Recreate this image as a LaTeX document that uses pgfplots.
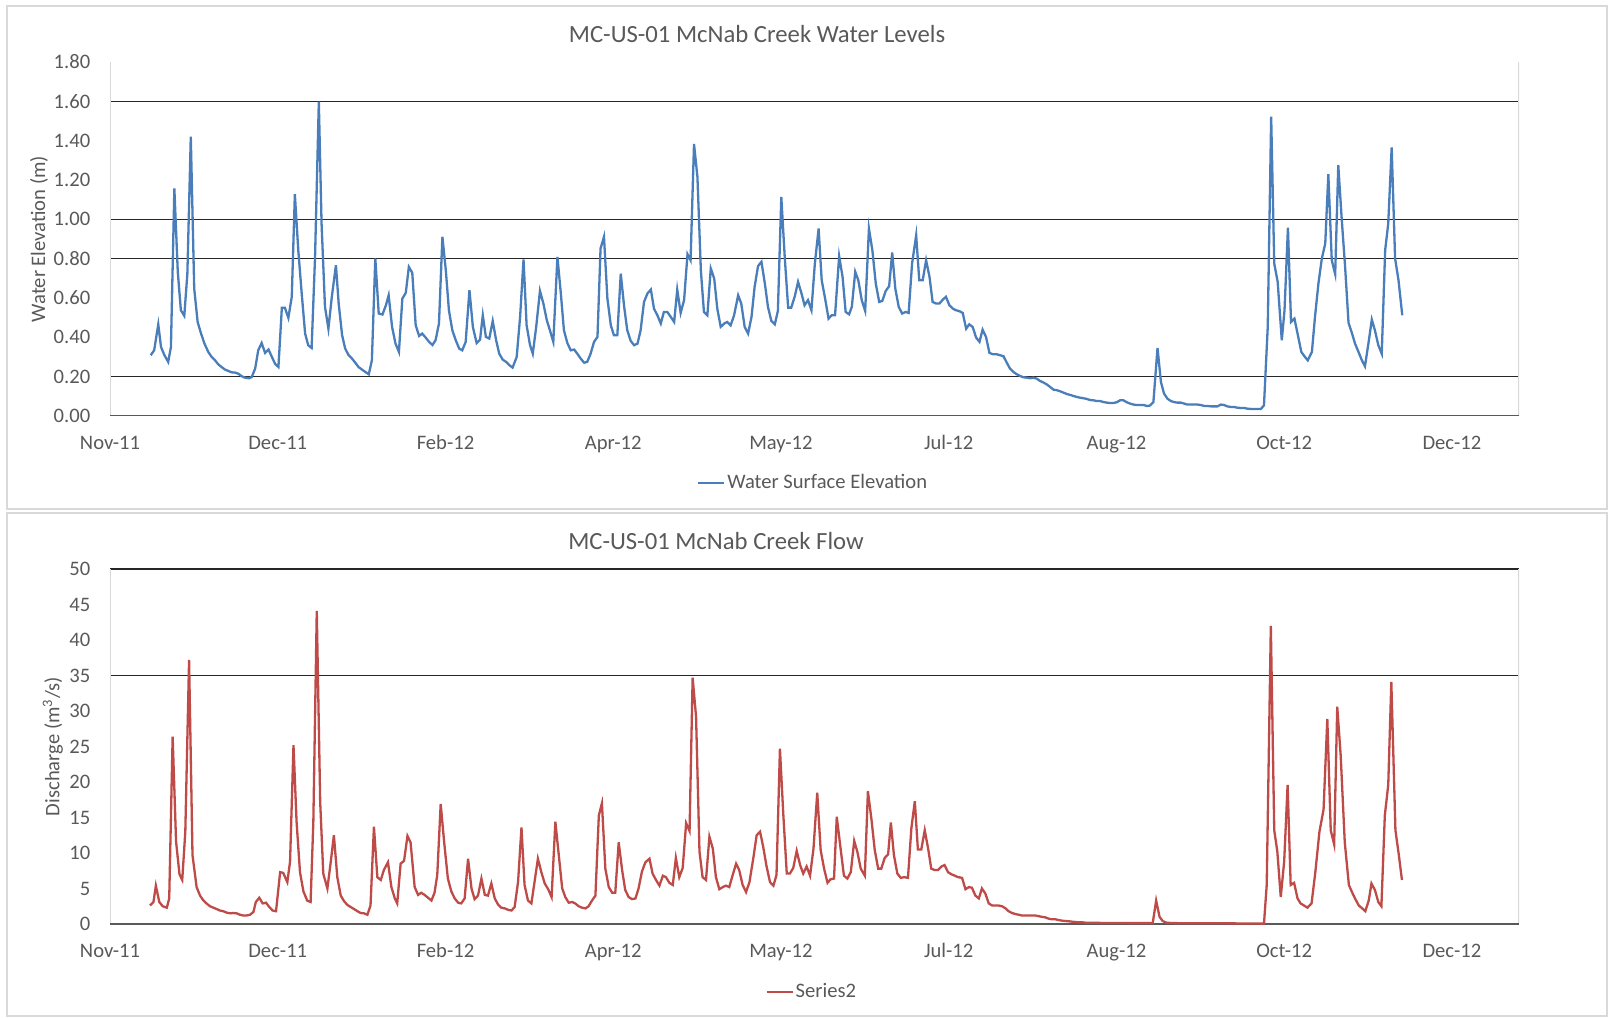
\documentclass[border=0pt]{standalone}
\usepackage{fontspec}
\setmainfont{Carlito}
\usepackage{pgfplots}
\pgfplotsset{compat=1.18}
\definecolor{txt}{HTML}{595959}
\definecolor{blueline}{HTML}{4A7EBB}
\definecolor{redline}{HTML}{BE4B48}
\definecolor{gridc}{HTML}{262626}
\definecolor{axisc}{HTML}{D9D9D9}
\definecolor{boxc}{HTML}{D9D9D9}
\definecolor{xaxc}{HTML}{595959}
\newcommand{\tfont}{\fontsize{10.3}{12}\selectfont}
\pgfplotsset{
  mystyle/.style={
    scale only axis,
    width=704.5pt,
    xmin=0, xmax=411.6,
    xtick={0,49,98,147,196,245,294,343,392},
    xticklabels={Nov-11,Dec-11,Feb-12,Apr-12,May-12,Jul-12,Aug-12,Oct-12,Dec-12},
    major tick length=0pt,
    axis line style={draw=none},
    tick label style={font=\tfont, text=txt},
    label style={font=\tfont, text=txt},
    xticklabel style={anchor=base, inner sep=0pt, yshift=-16.75pt},
    yticklabel style={anchor=east, inner sep=0pt, xshift=-9.7pt},
    /pgf/number format/assume math mode=true,
    extra y tick labels={},
    extra y tick style={grid=major, major grid style={color=gridc, line width=0.75pt}, major tick length=0pt},
    legend cell align=left,
    legend style={draw=none, fill=none, font=\tfont, text=txt, inner sep=0pt, anchor=center,
      nodes={inner sep=1pt},
      /tikz/every even column/.append style={column sep=0pt}},
    legend image code/.code={\draw[#1] (0pt,0pt) -- (13pt,0pt);},
  }
}
\begin{document}
\begin{tikzpicture}
\useasboundingbox (0,0) rectangle (805pt,508.5pt);
\draw[boxc, line width=1pt] (3.5pt,254pt) rectangle (803.5pt,505.5pt);
\draw[boxc, line width=1pt] (3.5pt,0.5pt) rectangle (803.5pt,252pt);
\node[font=\fontsize{12.35}{14}\selectfont, text=txt] at (378.5pt,491.5pt) {MC-US-01 McNab Creek Water Levels};
\node[font=\fontsize{12.35}{14}\selectfont, text=txt] at (358pt,238pt) {MC-US-01 McNab Creek Flow};

\begin{axis}[mystyle,
  at={(55pt,300.5pt)}, anchor=south west,
  height=177pt,
  ymin=0, ymax=1.8,
  ytick={0,0.2,0.4,0.6,0.8,1.0,1.2,1.4,1.6,1.8},
  yticklabel style={/pgf/number format/.cd, fixed, fixed zerofill, precision=2},
  extra y ticks={0.2,0.8,1.0,1.6},
  ylabel={Water Elevation (m)},
  ylabel style={at={(axis description cs:-0.0504,0.5)}, anchor=center},
  legend style={at={(axis description cs:0.499,-0.189)}},
]
\draw[axisc, line width=0.8pt] (rel axis cs:0,0) -- (rel axis cs:0,1);
\draw[axisc, line width=0.8pt] (rel axis cs:1,0) -- (rel axis cs:1,1);
\draw[xaxc, line width=0.8pt] (rel axis cs:0,0) -- (rel axis cs:1,0);
\addplot[blueline, line width=1.15pt] coordinates {
(11.9,0.309)(12.9,0.334)(14.1,0.466)(14.9,0.351)(15.9,0.309)(17.0,0.275)(17.8,0.351)(18.8,1.157)(19.8,0.733)(20.7,0.538)
(21.7,0.509)(22.6,0.724)(23.6,1.420)(24.6,0.648)(25.6,0.478)(26.6,0.419)(27.6,0.368)(28.7,0.326)(29.7,0.300)(30.7,0.283)
(31.6,0.263)(32.6,0.249)(33.6,0.236)(34.6,0.229)(35.5,0.222)(36.5,0.221)(37.5,0.215)(38.5,0.202)(39.4,0.195)(40.6,0.192)
(41.4,0.198)(42.4,0.241)(43.3,0.334)(44.3,0.371)(45.3,0.321)(46.3,0.338)(47.2,0.304)(48.2,0.266)(49.2,0.249)(50.2,0.550)
(51.1,0.550)(52.1,0.499)(53.1,0.606)(54.0,1.128)(55.0,0.843)(56.0,0.623)(57.0,0.419)(57.9,0.360)(58.9,0.346)(59.9,0.809)
(61.0,1.598)(61.8,0.979)(62.8,0.555)(63.8,0.444)(64.8,0.606)(66.0,0.767)(66.8,0.572)(67.8,0.411)(68.7,0.343)(69.7,0.309)
(70.7,0.292)(71.7,0.270)(72.6,0.249)(73.6,0.236)(74.6,0.224)(75.6,0.212)(76.5,0.283)(77.5,0.801)(78.5,0.521)(79.6,0.516)
(80.6,0.563)(81.4,0.614)(82.4,0.453)(83.4,0.368)(84.4,0.326)(85.4,0.597)(86.4,0.626)(87.3,0.758)(88.3,0.728)(89.3,0.461)
(90.3,0.407)(91.2,0.419)(92.2,0.399)(93.2,0.377)(94.2,0.361)(95.1,0.385)(96.1,0.470)(97.1,0.911)(98.1,0.741)(99.0,0.538)
(100.0,0.436)(101.0,0.385)(102.0,0.343)(102.9,0.334)(103.9,0.377)(105.0,0.640)(106.0,0.453)(107.1,0.371)(108.1,0.388)(108.9,0.512)
(109.8,0.402)(110.8,0.394)(111.8,0.483)(112.8,0.385)(113.7,0.317)(114.7,0.287)(115.7,0.275)(116.7,0.258)(117.6,0.246)(118.8,0.300)
(119.8,0.504)(120.8,0.796)(121.7,0.461)(122.7,0.360)(123.5,0.317)(124.5,0.453)(125.6,0.636)(126.6,0.572)(127.6,0.487)(128.5,0.436)
(129.5,0.377)(130.7,0.809)(131.7,0.623)(132.6,0.436)(133.6,0.371)(134.6,0.334)(135.6,0.338)(136.5,0.317)(137.5,0.292)(138.5,0.271)
(139.4,0.275)(140.4,0.317)(141.4,0.377)(142.4,0.402)(143.3,0.852)(144.3,0.911)(145.3,0.597)(146.3,0.461)(147.2,0.411)(148.2,0.411)
(149.2,0.724)(150.2,0.555)(151.1,0.436)(152.1,0.382)(153.1,0.360)(154.1,0.368)(155.0,0.436)(156.0,0.580)(157.0,0.623)(158.0,0.643)
(158.9,0.546)(159.9,0.512)(160.9,0.470)(161.8,0.529)(162.8,0.529)(163.8,0.504)(164.8,0.478)(165.7,0.643)(166.7,0.524)(167.7,0.589)
(168.7,0.823)(169.6,0.792)(170.6,1.383)(171.6,1.216)(172.6,0.741)(173.5,0.529)(174.5,0.512)(175.5,0.750)(176.5,0.699)(177.4,0.546)
(178.4,0.453)(179.4,0.470)(180.3,0.478)(181.3,0.461)(182.3,0.512)(183.5,0.614)(184.4,0.572)(185.4,0.453)(186.4,0.419)(187.4,0.504)
(188.3,0.656)(189.3,0.762)(190.3,0.784)(191.3,0.673)(192.2,0.555)(193.2,0.483)(194.2,0.466)(195.1,0.534)(196.1,1.114)(197.1,0.809)
(198.1,0.551)(199.0,0.551)(200.0,0.606)(201.0,0.682)(202.0,0.623)(202.9,0.563)(203.9,0.589)(204.9,0.538)(205.9,0.775)(207.0,0.953)
(207.9,0.690)(208.9,0.597)(209.9,0.495)(210.8,0.512)(211.8,0.512)(213.0,0.813)(214.0,0.707)(214.9,0.529)(215.9,0.517)(216.7,0.555)
(217.7,0.733)(218.6,0.690)(219.6,0.589)(220.6,0.534)(221.7,0.953)(222.7,0.843)(223.7,0.673)(224.7,0.580)(225.6,0.585)(226.6,0.636)
(227.6,0.660)(228.5,0.831)(229.4,0.648)(230.4,0.555)(231.4,0.521)(232.4,0.529)(233.3,0.524)(234.3,0.775)(235.5,0.919)(236.4,0.690)
(237.4,0.690)(238.4,0.792)(239.4,0.707)(240.3,0.580)(241.3,0.572)(242.3,0.572)(243.3,0.592)(244.2,0.606)(245.2,0.563)(246.2,0.546)
(247.1,0.538)(248.1,0.533)(249.1,0.524)(250.1,0.444)(251.0,0.466)(252.0,0.453)(253.0,0.399)(254.0,0.377)(254.9,0.439)(255.9,0.402)
(256.9,0.321)(257.9,0.314)(259.0,0.314)(260.0,0.309)(261.0,0.304)(262.0,0.270)(262.9,0.241)(263.9,0.224)(264.9,0.212)(265.8,0.204)
(266.8,0.197)(267.8,0.195)(268.8,0.192)(269.7,0.195)(270.7,0.190)(271.7,0.178)(272.7,0.170)(273.6,0.161)(274.6,0.148)(275.6,0.134)
(276.6,0.131)(277.5,0.126)(278.5,0.119)(279.5,0.112)(280.5,0.107)(281.4,0.102)(282.4,0.097)(283.4,0.093)(284.4,0.090)(285.3,0.087)
(286.3,0.081)(287.3,0.080)(288.2,0.076)(289.2,0.076)(290.2,0.071)(291.2,0.068)(292.1,0.066)(293.1,0.066)(294.1,0.070)(295.1,0.080)
(296.0,0.080)(297.0,0.070)(298.0,0.063)(299.0,0.058)(299.9,0.056)(300.9,0.056)(301.9,0.056)(302.9,0.051)(303.8,0.053)(304.8,0.071)
(306.0,0.346)(307.0,0.173)(307.9,0.114)(308.9,0.088)(309.9,0.076)(310.8,0.071)(311.8,0.068)(312.8,0.068)(313.8,0.063)(314.7,0.058)
(315.7,0.058)(316.7,0.058)(317.7,0.058)(318.6,0.056)(319.6,0.051)(320.6,0.051)(321.6,0.049)(322.5,0.049)(323.5,0.049)(324.5,0.058)
(325.4,0.056)(326.4,0.049)(327.4,0.046)(328.4,0.046)(329.3,0.042)(330.3,0.041)(331.3,0.041)(332.3,0.037)(333.2,0.036)(334.2,0.036)
(335.2,0.036)(336.2,0.036)(337.1,0.054)(338.2,0.453)(339.2,1.522)(340.1,0.775)(341.1,0.682)(342.3,0.385)(343.1,0.538)(344.1,0.958)
(345.0,0.478)(346.0,0.495)(347.0,0.411)(348.0,0.326)(348.9,0.304)(349.9,0.283)(351.1,0.326)(352.0,0.504)(353.0,0.673)(354.0,0.801)
(355.0,0.877)(355.9,1.230)(356.9,0.792)(357.9,0.721)(358.8,1.276)(359.8,1.004)(360.8,0.758)(361.8,0.473)(362.7,0.427)(363.7,0.368)
(364.7,0.326)(365.7,0.283)(366.6,0.253)(367.6,0.368)(368.6,0.490)(369.5,0.436)(370.5,0.360)(371.5,0.317)(372.5,0.843)(373.4,0.979)
(374.4,1.366)(375.4,0.801)(376.4,0.690)(377.5,0.512)
};
\addlegendentry{Water Surface Elevation}
\end{axis}

\begin{axis}[mystyle,
  at={(55pt,46.5pt)}, anchor=south west,
  height=177.5pt,
  ymin=0, ymax=50,
  ytick={0,5,10,15,20,25,30,35,40,45,50},
  extra y ticks={35,50},
  ylabel={Discharge (m\textsuperscript{3}/s)},
  ylabel style={at={(axis description cs:-0.0405,0.5)}, anchor=center},
  legend style={at={(axis description cs:0.498,-0.1915)}},
]
\draw[axisc, line width=0.8pt] (rel axis cs:0,0) -- (rel axis cs:0,1);
\draw[axisc, line width=0.8pt] (rel axis cs:1,0) -- (rel axis cs:1,1);
\draw[xaxc, line width=0.8pt] (rel axis cs:0,0) -- (rel axis cs:1,0);
\addplot[redline, line width=1.15pt] coordinates {
(11.7,2.6)(12.7,3.1)(13.4,5.4)(14.4,3.1)(15.4,2.5)(16.6,2.3)(17.3,3.6)(18.3,26.4)(19.3,11.6)(20.3,7.0)
(21.1,6.2)(22.0,13.0)(23.1,37.2)(24.1,9.7)(25.3,5.2)(26.3,4.0)(27.3,3.3)(28.2,2.9)(29.2,2.5)(30.2,2.3)
(31.2,2.1)(32.1,1.9)(33.1,1.8)(34.1,1.6)(35.1,1.5)(36.0,1.55)(37.0,1.5)(38.0,1.3)(38.9,1.2)(39.9,1.2)
(40.9,1.3)(41.9,1.7)(42.6,3.1)(43.6,3.7)(44.6,2.9)(45.6,3.0)(46.5,2.4)(47.5,1.9)(48.5,1.8)(49.7,7.3)
(50.6,7.2)(51.8,5.9)(52.6,8.8)(53.6,25.2)(54.5,14.4)(55.5,7.3)(56.5,4.6)(57.6,3.3)(58.6,3.1)(59.4,14.4)
(60.4,44.1)(61.4,17.2)(62.3,7.1)(63.5,5.0)(64.5,8.8)(65.4,12.5)(66.4,6.6)(67.4,4.0)(68.4,3.2)(69.3,2.7)
(70.3,2.4)(71.3,2.1)(72.3,1.8)(73.2,1.55)(74.2,1.5)(75.2,1.3)(76.1,2.6)(77.1,13.7)(78.1,6.6)(79.1,6.2)
(80.0,7.6)(81.2,8.7)(82.2,5.2)(83.2,3.6)(83.9,2.9)(84.9,8.5)(85.9,8.9)(86.9,12.4)(87.8,11.5)(89.0,5.2)
(90.0,4.1)(90.9,4.4)(91.9,4.1)(92.9,3.7)(93.9,3.3)(94.8,4.4)(95.6,6.9)(96.6,16.9)(97.6,11.6)(98.7,6.4)
(99.7,4.6)(100.7,3.6)(101.7,3.0)(102.6,2.9)(103.6,3.6)(104.6,9.2)(105.6,5.0)(106.5,3.5)(107.5,4.0)(108.5,6.4)
(109.5,4.1)(110.4,4.0)(111.4,5.7)(112.4,3.6)(113.4,2.7)(114.3,2.3)(115.3,2.2)(116.3,2.0)(117.3,1.9)(118.2,2.4)
(119.2,5.9)(120.2,13.6)(121.1,5.5)(122.1,3.3)(123.1,2.9)(124.1,6.2)(125.0,9.2)(126.0,7.3)(127.0,5.7)(128.0,4.9)
(129.0,3.8)(130.1,14.4)(131.1,9.7)(132.1,5.0)(133.0,3.8)(134.0,3.0)(135.0,3.1)(135.9,2.9)(136.9,2.5)(137.9,2.3)
(138.9,2.2)(139.8,2.5)(140.8,3.3)(141.8,4.0)(142.8,15.3)(143.7,17.0)(144.7,7.8)(145.7,5.2)(146.7,4.4)(147.6,4.4)
(148.6,11.5)(149.6,7.6)(150.5,4.8)(151.5,3.8)(152.5,3.5)(153.5,3.6)(154.4,5.0)(155.4,7.4)(156.4,8.7)(157.6,9.2)
(158.5,7.1)(159.5,6.2)(160.5,5.4)(161.5,6.8)(162.4,6.6)(163.4,5.8)(164.4,5.5)(165.3,9.3)(166.3,6.6)(167.3,7.9)
(168.3,14.2)(169.3,13.1)(170.2,34.7)(171.2,29.2)(172.2,10.2)(173.1,6.6)(174.1,6.2)(175.1,12.3)(176.1,10.6)(177.0,6.6)
(178.0,4.9)(179.0,5.2)(179.9,5.4)(180.9,5.2)(181.9,6.9)(182.9,8.5)(183.8,7.6)(184.8,5.5)(185.8,4.5)(186.8,5.9)
(187.9,9.2)(188.9,12.5)(189.9,13.0)(190.8,10.9)(191.8,8.1)(192.8,5.9)(193.8,5.4)(194.7,6.9)(195.7,24.7)(196.7,15.3)
(197.7,7.1)(198.6,7.1)(199.6,7.9)(200.6,10.3)(201.6,8.3)(202.5,7.1)(203.5,8.1)(204.5,6.8)(205.5,10.6)(206.6,18.5)
(207.6,10.4)(208.6,7.8)(209.6,5.8)(210.5,6.3)(211.5,6.4)(212.3,15.1)(213.3,11.1)(214.4,6.8)(215.4,6.4)(216.4,7.3)
(217.4,11.7)(218.3,10.2)(219.3,7.8)(220.5,6.8)(221.4,18.7)(222.4,14.9)(223.4,10.4)(224.4,7.8)(225.3,7.8)(226.3,9.3)
(227.3,9.8)(228.1,14.3)(229.0,9.7)(230.0,7.1)(231.0,6.5)(232.0,6.6)(233.1,6.5)(234.1,13.5)(235.1,17.3)(236.0,10.5)
(237.0,10.5)(238.0,13.2)(239.0,10.6)(239.9,7.8)(240.9,7.6)(241.9,7.6)(242.9,8.1)(243.8,8.3)(244.8,7.3)(245.8,7.0)
(246.8,6.8)(247.7,6.6)(248.9,6.5)(249.9,4.9)(250.9,5.2)(251.8,5.1)(252.8,4.0)(253.8,3.6)(254.7,5.0)(255.7,4.3)
(256.7,2.9)(257.7,2.6)(258.6,2.6)(259.6,2.6)(260.6,2.5)(261.6,2.2)(262.5,1.8)(263.5,1.55)(264.5,1.4)(265.5,1.3)
(266.4,1.2)(267.4,1.2)(268.4,1.2)(269.4,1.2)(270.3,1.2)(271.3,1.1)(272.3,1.0)(273.2,0.94)(274.2,0.75)(275.2,0.66)
(276.2,0.66)(277.1,0.56)(278.1,0.47)(279.1,0.42)(280.1,0.38)(281.0,0.33)(282.0,0.28)(283.0,0.24)(284.0,0.24)(284.9,0.19)
(287,0.17)(290,0.15)(293,0.14)(296,0.13)(299,0.12)(302,0.12)(304.6,0.12)(305.6,3.3)(306.6,1.0)(307.5,0.42)
(308.5,0.2)(310,0.13)(315,0.1)(320,0.1)(325,0.1)(330,0.08)(335,0.06)(337.1,0.05)(337.9,5.5)(339.1,42.0)
(340.1,13.2)(341.0,10.2)(342.0,3.8)(343.0,8.8)(344.0,19.6)(344.9,5.5)(345.9,5.8)(346.9,3.6)(347.8,2.9)(348.8,2.6)
(349.8,2.3)(351.0,2.9)(352.1,7.3)(353.3,13.0)(354.5,16.1)(355.6,28.9)(356.6,13.2)(357.6,11.2)(358.5,30.6)(359.5,23.8)
(360.7,11.5)(361.9,5.5)(362.8,4.5)(363.8,3.5)(364.8,2.6)(365.8,2.2)(366.7,1.8)(367.7,3.3)(368.5,5.7)(369.5,4.8)
(370.5,3.1)(371.4,2.5)(372.4,15.3)(373.4,19.6)(374.3,34.1)(375.5,13.2)(376.5,9.7)(377.4,6.2)
};
\addlegendentry{Series2}
\end{axis}
\end{tikzpicture}
\end{document}
